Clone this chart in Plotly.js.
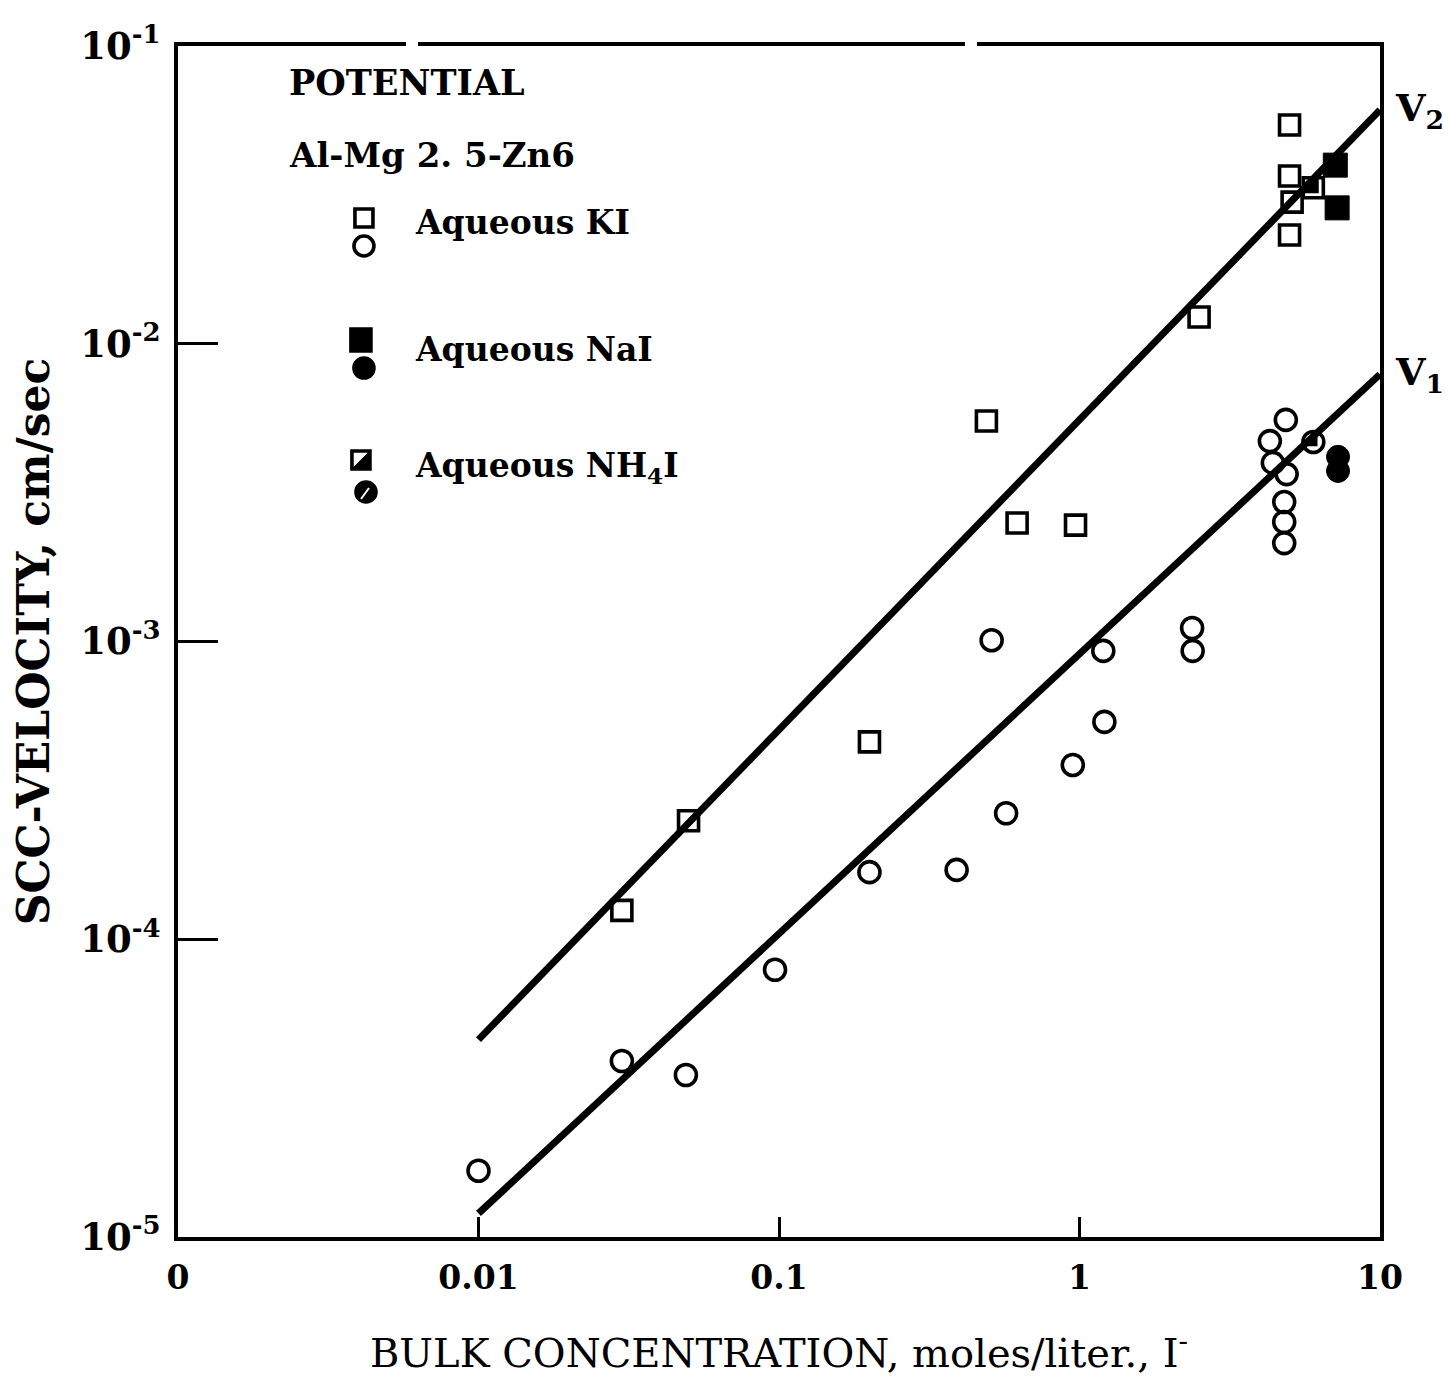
<!DOCTYPE html>
<html>
<head>
<meta charset="utf-8">
<script src="https://cdn.plot.ly/plotly-3.0.1.min.js"></script>
<style>
  html, body { margin: 0; padding: 0; background: #fff; }
  #chart { width: 1450px; height: 1382px; }
</style>
</head>
<body>
<div id="chart"></div>
<script>
// Axis ticks (log scales; the left end of the concentration axis is labelled "0")
const xTickVals = [0.001, 0.01, 0.1, 1, 10];
const xTickText = ['0', '0.01', '0.1', '1', '10'];
const yTickVals = [1e-5, 1e-4, 1e-3, 1e-2, 1e-1];
const yTickText = ['10<sup>-5</sup>', '10<sup>-4</sup>', '10<sup>-3</sup>', '10<sup>-2</sup>', '10<sup>-1</sup>'];

// Aqueous KI: squares = V2 (plateau velocity), circles = V1
const kiSquareConc = [0.03, 0.05, 0.2, 0.49, 0.62, 0.97, 2.5, 5.0, 5.0, 5.1, 5.0];
const kiSquareVel  = [1.25e-4, 2.5e-4, 4.6e-4, 5.5e-3, 2.5e-3, 2.46e-3, 0.0123, 0.0543, 0.0366, 0.0299, 0.0232];
const kiCircleConc = [0.01, 0.03, 0.049, 0.097, 0.2, 0.39, 0.51, 0.57, 0.95, 1.2, 1.21, 2.37, 2.38,
                      4.86, 4.3, 4.4, 4.89, 4.8, 4.8, 4.8];
const kiCircleVel  = [1.67e-5, 3.9e-5, 3.5e-5, 7.9e-5, 1.68e-4, 1.71e-4, 1.01e-3, 2.65e-4, 3.85e-4, 9.3e-4, 5.37e-4, 1.11e-3, 9.3e-4,
                      5.55e-3, 4.71e-3, 3.98e-3, 3.65e-3, 2.94e-3, 2.52e-3, 2.14e-3];

// Aqueous NaI
const naiSquareConc = [7.1, 7.2];
const naiSquareVel  = [0.0398, 0.0286];
const naiCircleConc = [7.25, 7.25];
const naiCircleVel  = [4.17e-3, 3.74e-3];

// Aqueous NH4I
const nh4iSquareConc = [6.0];
const nh4iSquareVel  = [0.0334];
const nh4iCircleConc = [6.0];
const nh4iCircleVel  = [4.68e-3];

// Fitted lines V2 and V1
const v2Conc = [0.01, 10];
const v2Vel  = [4.6e-5, 0.061];
const v1Conc = [0.01, 10];
const v1Vel  = [1.2e-5, 7.9e-3];

const FONT = '"DejaVu Serif", "Liberation Serif", serif';
const INK = '#000';

function pts(x, y, symbol, size, opts) {
  opts = opts || {};
  return {
    type: 'scatter', mode: 'markers', x: x, y: y, showlegend: false, hoverinfo: 'x+y',
    marker: {
      symbol: symbol, size: size, color: opts.color || INK,
      line: { color: opts.lineColor || INK, width: opts.lineWidth === undefined ? 3.6 : opts.lineWidth }
    }
  };
}

function fitLine(x, y) {
  return { type: 'scatter', mode: 'lines', x: x, y: y, showlegend: false,
           line: { color: INK, width: 7 }, hoverinfo: 'skip' };
}

const traces = [
  fitLine(v2Conc, v2Vel),
  fitLine(v1Conc, v1Vel),
  pts(kiSquareConc, kiSquareVel, 'square-open', 20),
  pts(kiCircleConc, kiCircleVel, 'circle-open', 21),
  pts(nh4iSquareConc, nh4iSquareVel, 'square-open', 20),
  pts(nh4iSquareConc, nh4iSquareVel, 'triangle-se', 18, { lineWidth: 0 }),
  pts(nh4iCircleConc, nh4iCircleVel, 'circle-open', 21),
  pts(nh4iCircleConc, nh4iCircleVel, 'triangle-se', 14, { lineWidth: 0 }),
  pts(naiSquareConc, naiSquareVel, 'square', 24, { lineWidth: 1 }),
  pts(naiCircleConc, naiCircleVel, 'circle', 23, { lineWidth: 1 })
];

// Key symbols drawn beside the caption text (paper anchor, pixel size)
function keyShape(type, ax, ay, halfW, halfH, filled) {
  return {
    type: type, xref: 'paper', yref: 'paper',
    xsizemode: 'pixel', ysizemode: 'pixel', xanchor: ax, yanchor: ay,
    x0: -halfW, x1: halfW, y0: -halfH, y1: halfH,
    line: { color: INK, width: 3.6 }, fillcolor: filled ? INK : 'rgba(0,0,0,0)', layer: 'above'
  };
}
function keyPath(ax, ay, path, fill, lineColor, lineWidth) {
  return {
    type: 'path', xref: 'paper', yref: 'paper',
    xsizemode: 'pixel', ysizemode: 'pixel', xanchor: ax, yanchor: ay,
    path: path, fillcolor: fill, line: { color: lineColor, width: lineWidth }, layer: 'above'
  };
}

const shapes = [
  keyShape('rect',   0.1547, 0.8556, 9, 9, false),
  keyShape('circle', 0.1547, 0.8321, 10, 10, false),
  keyShape('rect',   0.1522, 0.7531, 10, 11, true),
  keyShape('circle', 0.1547, 0.7296, 10, 10, true),
  keyShape('rect',   0.1522, 0.6524, 9, 9, false),
  keyPath(0.1522, 0.6524, 'M -9 -9 L 9 -9 L 9 9 Z', INK, INK, 1),
  keyShape('circle', 0.1564, 0.6255, 10, 10, true),
  keyPath(0.1564, 0.6255, 'M -5 -7 L 3 4', 'rgba(0,0,0,0)', '#fff', 2),
  // breaks in the top frame line
  { type: 'rect', xref: 'paper', yref: 'paper', x0: 0.1897, x1: 0.1997, y0: 0.994, y1: 1.006,
    line: { width: 0 }, fillcolor: '#fff', layer: 'above' },
  { type: 'rect', xref: 'paper', yref: 'paper', x0: 0.6547, x1: 0.6647, y0: 0.994, y1: 1.006,
    line: { width: 0 }, fillcolor: '#fff', layer: 'above' }
];

function label(text, x, y, size) {
  return { text: text, xref: 'paper', yref: 'paper', x: x, y: y, xanchor: 'left', yanchor: 'middle',
           showarrow: false, font: { family: FONT, size: size, color: INK, weight: 'bold' } };
}

const annotations = [
  label('POTENTIAL', 0.0907, 0.969, 35),
  label('Al-Mg 2. 5-Zn6', 0.0907, 0.9085, 34),
  label('Aqueous KI', 0.1955, 0.852, 33),
  label('Aqueous NaI', 0.1955, 0.7448, 33),
  label('Aqueous NH<sub>4</sub>I', 0.1955, 0.6465, 33),
  { text: 'V<sub>2</sub>', x: Math.log10(v2Conc[1]), y: Math.log10(v2Vel[1]), xref: 'x', yref: 'y',
    xanchor: 'left', yanchor: 'middle', xshift: 13, yshift: 0, showarrow: false,
    font: { family: FONT, size: 38, color: INK, weight: 'bold' } },
  { text: 'V<sub>1</sub>', x: Math.log10(v1Conc[1]), y: Math.log10(v1Vel[1]), xref: 'x', yref: 'y',
    xanchor: 'left', yanchor: 'middle', xshift: 13, yshift: 0, showarrow: false,
    font: { family: FONT, size: 38, color: INK, weight: 'bold' } }
];

const layout = {
  width: 1450, height: 1382,
  margin: { l: 178, r: 70, t: 46, b: 145 },
  paper_bgcolor: '#fff', plot_bgcolor: '#fff',
  showlegend: false,
  xaxis: {
    type: 'log', range: [-3, 1],
    tickvals: xTickVals, ticktext: xTickText,
    ticks: 'inside', ticklen: 20, tickwidth: 3, tickcolor: INK,
    showline: true, linewidth: 4, linecolor: INK, mirror: true,
    showgrid: false, zeroline: false,
    tickfont: { family: FONT, size: 33, color: INK, weight: 'bold' },
    ticklabelstandoff: 8,
    title: { text: 'BULK CONCENTRATION, moles/liter., I<sup>-</sup>', standoff: 44,
             font: { family: FONT, size: 40, color: INK } }
  },
  yaxis: {
    type: 'log', range: [-5, -1],
    tickvals: yTickVals, ticktext: yTickText,
    ticks: 'inside', ticklen: 40, tickwidth: 3, tickcolor: INK,
    showline: true, linewidth: 4, linecolor: INK, mirror: true,
    showgrid: false, zeroline: false,
    tickfont: { family: FONT, size: 37, color: INK, weight: 'bold' },
    ticklabelstandoff: 6,
    title: { text: 'SCC-VELOCITY, cm/sec', standoff: 18,
             font: { family: FONT, size: 44, color: INK, weight: 'bold' } }
  },
  shapes: shapes,
  annotations: annotations
};

Plotly.newPlot('chart', traces, layout, { staticPlot: true, displayModeBar: false });
</script>
</body>
</html>
